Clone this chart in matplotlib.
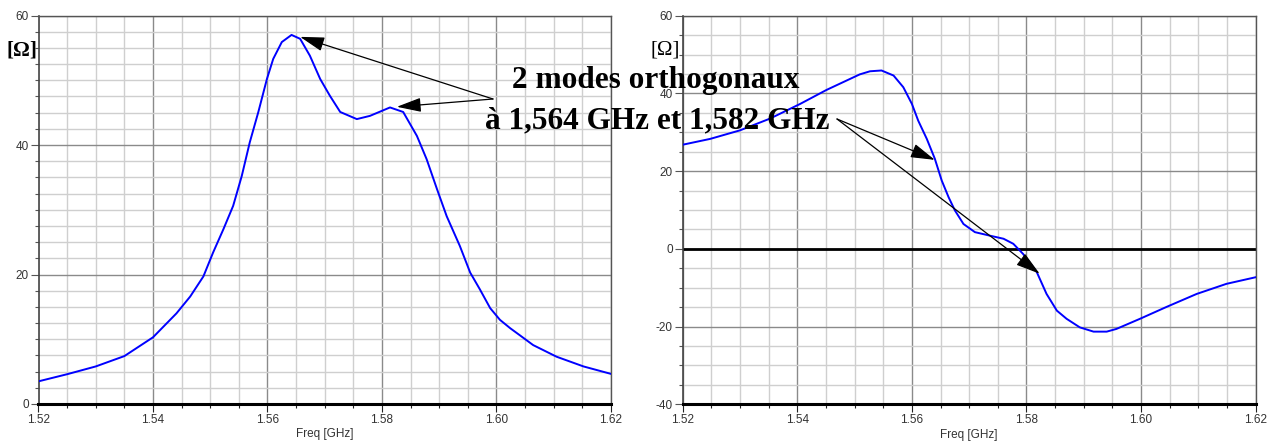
import matplotlib
matplotlib.use("Agg")
import matplotlib.pyplot as plt
import matplotlib.ticker as mticker

# Left: real part (resistance) [Ohm] vs frequency [GHz]
freq_left = [1.520, 1.525, 1.530, 1.535, 1.540, 1.5441, 1.5465, 1.5488, 1.5505, 1.5523,
             1.5540, 1.5555, 1.5569, 1.5584, 1.5599, 1.5610, 1.5625, 1.5642, 1.5657,
             1.5674, 1.5692, 1.5709, 1.5727, 1.5756, 1.5779, 1.5814, 1.5837, 1.5861,
             1.5878, 1.5896, 1.5913, 1.5936, 1.5954, 1.5971, 1.5989, 1.6006, 1.6024,
             1.6041, 1.6064, 1.6105, 1.6152, 1.620]
r_left = [3.5, 4.6, 5.8, 7.4, 10.3, 14.0, 16.6, 19.7, 23.4, 27.0,
          30.6, 35.2, 40.4, 45.1, 50.2, 53.3, 55.9, 57.0, 56.4,
          53.8, 50.2, 47.6, 45.1, 44.0, 44.5, 45.8, 45.1, 41.4,
          37.8, 33.2, 29.0, 24.4, 20.3, 17.7, 14.8, 13.0, 11.7,
          10.6, 9.1, 7.3, 5.8, 4.65]

# Right: imaginary part (reactance) [Ohm]
freq_right = [1.520, 1.5248, 1.530, 1.5352, 1.5405, 1.5451, 1.5509, 1.5527, 1.5547,
              1.5568, 1.5585, 1.5600, 1.5611, 1.5626, 1.5640, 1.5652, 1.5664, 1.5675,
              1.5690, 1.5710, 1.5736, 1.5760, 1.5777, 1.5794, 1.5818, 1.5835, 1.5853,
              1.5870, 1.5893, 1.5917, 1.5940, 1.5957, 1.5998, 1.6045, 1.6097, 1.6149,
              1.620]
x_right = [26.8, 28.3, 30.5, 33.5, 37.3, 40.9, 44.9, 45.7, 45.9,
           44.6, 41.6, 37.3, 33.0, 28.3, 23.2, 17.6, 13.3, 9.9,
           6.4, 4.3, 3.4, 2.6, 1.3, -1.3, -6.0, -11.6, -15.9,
           -18.0, -20.2, -21.3, -21.3, -20.6, -18.0, -14.9, -11.6, -9.0,
           -7.3]

# arrow targets (freq, value)
left_marks = [(1.5657, 56.7), (1.5826, 45.9)]
right_marks = [(1.5640, 22.9), (1.5823, -6.4)]

title_1 = "2 modes orthogonaux"
title_2 = "à 1,564 GHz et 1,582 GHz"

W, H = 1272, 441
fig = plt.figure(figsize=(W / 100, H / 100), dpi=100)
plt.rcParams["font.family"] = "Liberation Sans"

ax1 = fig.add_axes([38.5 / W, 1 - 404 / H, (611 - 38.5) / W, (404 - 15.5) / H])
ax2 = fig.add_axes([682.7 / W, 1 - 404.3 / H, (1255.7 - 682.7) / W, (404.3 - 15.7) / H])


def style(ax, ylim, ymajor, yminor):
    ax.set_xlim(1.52, 1.62)
    ax.set_ylim(*ylim)
    ax.xaxis.set_major_locator(mticker.MultipleLocator(0.02))
    ax.xaxis.set_minor_locator(mticker.MultipleLocator(0.005))
    ax.yaxis.set_major_locator(mticker.MultipleLocator(ymajor))
    ax.yaxis.set_minor_locator(mticker.MultipleLocator(yminor))
    ax.xaxis.set_major_formatter(mticker.FormatStrFormatter("%.2f"))
    ax.yaxis.set_major_formatter(mticker.FormatStrFormatter("%d"))
    ax.grid(which="major", color="#8a8a8a", lw=1.0)
    ax.grid(which="minor", color="#cfcfcf", lw=1.0)
    ax.set_axisbelow(True)
    ax.tick_params(which="major", direction="out", length=6, width=0.8,
                   colors="#555555", labelsize=8.5, labelcolor="#333333", pad=1,
                   top=False, right=False)
    ax.tick_params(which="minor", direction="out", length=3, width=0.8,
                   colors="#555555", top=False, right=False)
    ax.tick_params(axis="x", which="both", colors="#222222", labelcolor="#333333")
    ax.spines["bottom"].set_color("black")
    ax.spines["bottom"].set_linewidth(2.2)
    ax.spines["left"].set_color("#444444")
    ax.spines["left"].set_linewidth(1.2)
    for s in ("top", "right"):
        ax.spines[s].set_color("#555555")
        ax.spines[s].set_linewidth(1.0)
    ax.set_xlabel("Freq [GHz]", fontsize=8.5, color="#333333", labelpad=2)


style(ax1, (0, 60), 20, 2.5)
style(ax2, (-40, 60), 20, 5)

ax1.plot(freq_left, r_left, color="#0000ff", lw=1.4, zorder=3,
         solid_joinstyle="round")
ax2.axhline(0, color="black", lw=2.0, zorder=2)
ax2.plot(freq_right, x_right, color="#0000ff", lw=1.4, zorder=3,
         solid_joinstyle="round")

fig.text(22 / W, 1 - 50 / H, "[Ω]", family="Liberation Serif", fontweight="bold",
         fontsize=15, ha="center", va="center")
fig.text(665 / W, 1 - 50 / H, "[Ω]", family="Liberation Serif",
         fontsize=15, ha="center", va="center")

arrow = dict(arrowstyle="-|>,head_length=0.75,head_width=0.22", color="black",
             lw=0.9, shrinkA=0, shrinkB=0, mutation_scale=20)
for xy in left_marks:
    ax1.annotate("", xy=xy, xycoords="data", xytext=(493 / W, 1 - 99 / H),
                 textcoords="figure fraction", arrowprops=arrow,
                 annotation_clip=False, zorder=5)
for xy in right_marks:
    ax2.annotate("", xy=xy, xycoords="data", xytext=(837 / W, 1 - 119 / H),
                 textcoords="figure fraction", arrowprops=arrow,
                 annotation_clip=False, zorder=5)

fig.text(656 / W, 1 - 88 / H, title_1, family="Liberation Serif", fontweight="bold",
         fontsize=22.5, ha="center", va="baseline", zorder=10)
fig.text(657 / W, 1 - 128 / H, title_2, family="Liberation Serif", fontweight="bold",
         fontsize=22.5, ha="center", va="baseline", zorder=10)

fig.savefig("out.png", dpi=100)
